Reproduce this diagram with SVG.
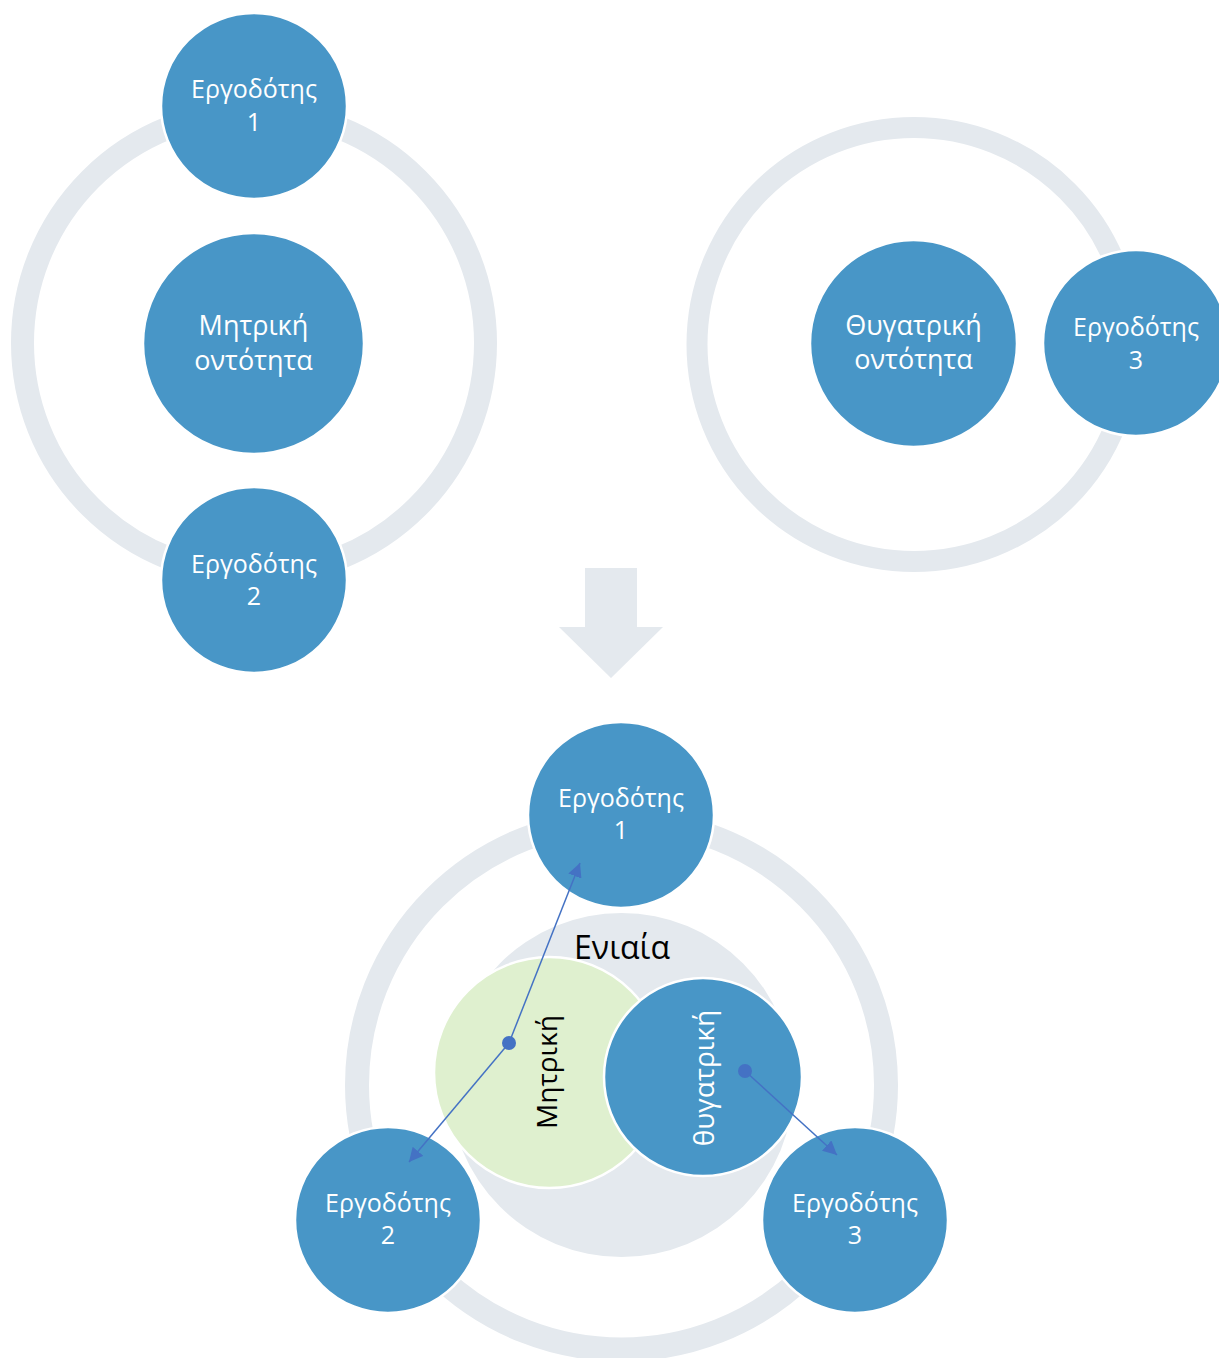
<svg xmlns="http://www.w3.org/2000/svg" width="1219" height="1358" viewBox="0 0 1219 1358">
  <defs>
    <style>
      .ring { fill: none; stroke: #e4e9ee; }
      .node { fill: #4896c7; stroke: #ffffff; stroke-width: 2.5; }
      .lbl { font-family: "Open Sans", "Noto Sans", "DejaVu Sans", sans-serif; fill: #ffffff; text-anchor: middle; }
      .emp { font-size: 25px; }
      .ent { font-size: 27px; }
      .dark { fill: #000000; }
      .conn { stroke: #4472c4; stroke-width: 1.5; fill: none; }
      .dot { fill: #4472c4; }
    </style>
    <marker id="arrow" markerUnits="userSpaceOnUse" markerWidth="16" markerHeight="14" refX="14" refY="7" orient="auto">
      <path d="M0,0 L14,7 L0,14 Z" fill="#4472c4"/>
    </marker>
  </defs>

  <rect width="1219" height="1358" fill="#ffffff"/>

  <!-- Top-left group -->
  <g id="ring-parent">
    <circle class="ring" cx="254" cy="343" r="231.5" stroke-width="23"/>
  </g>
  <g id="parent-entity">
    <circle class="node" cx="253.5" cy="343.5" r="110.5"/>
    <text class="lbl ent" x="253.5" y="335">Μητρική</text>
    <text class="lbl ent" x="253.5" y="370">οντότητα</text>
  </g>
  <g id="employer1-top">
    <circle class="node" cx="254" cy="106" r="93"/>
    <text class="lbl emp" x="254" y="98">Εργοδότης</text>
    <text class="lbl emp" x="254" y="131">1</text>
  </g>
  <g id="employer2-top">
    <circle class="node" cx="254" cy="580" r="93"/>
    <text class="lbl emp" x="254" y="573">Εργοδότης</text>
    <text class="lbl emp" x="254" y="605">2</text>
  </g>

  <!-- Top-right group -->
  <g id="ring-subsidiary">
    <circle class="ring" cx="914" cy="344.5" r="217" stroke-width="21"/>
  </g>
  <g id="subsidiary-entity">
    <circle class="node" cx="913.5" cy="343.5" r="103.5"/>
    <text class="lbl ent" x="913.5" y="335">Θυγατρική</text>
    <text class="lbl ent" x="913.5" y="369">οντότητα</text>
  </g>
  <g id="employer3-top">
    <circle class="node" cx="1136" cy="343" r="93"/>
    <text class="lbl emp" x="1136" y="336">Εργοδότης</text>
    <text class="lbl emp" x="1136" y="369">3</text>
  </g>

  <!-- Down arrow -->
  <g id="down-arrow">
    <path d="M585,568 L637,568 L637,627 L663,627 L611,678 L559,627 L585,627 Z" fill="#e4e9ee"/>
  </g>

  <!-- Bottom group -->
  <g id="ring-combined">
    <circle class="ring" cx="621.5" cy="1085" r="264.5" stroke-width="24"/>
  </g>
  <g id="unified">
    <circle cx="621.5" cy="1085" r="172" fill="#e4e9ee"/>
  </g>
  <g id="parent-bottom">
    <circle cx="549.5" cy="1072.5" r="115.5" fill="#dff0cf" stroke="#ffffff" stroke-width="2.5"/>
    <text class="lbl dark" font-size="28" transform="translate(557,1072) rotate(-90)" x="0" y="0">Μητρική</text>
  </g>
  <g id="subsidiary-bottom">
    <circle class="node" cx="703" cy="1077" r="99"/>
    <text class="lbl" font-size="28" transform="translate(714,1078) rotate(-90)" x="0" y="0">θυγατρική</text>
  </g>
  <g id="unified-label">
    <text class="lbl dark" font-size="32" x="622" y="959">Ενιαία</text>
  </g>
  <g id="employer1-bottom">
    <circle class="node" cx="621" cy="815" r="93"/>
    <text class="lbl emp" x="621" y="807">Εργοδότης</text>
    <text class="lbl emp" x="621" y="839">1</text>
  </g>
  <g id="employer2-bottom">
    <circle class="node" cx="388" cy="1220" r="93"/>
    <text class="lbl emp" x="388" y="1212">Εργοδότης</text>
    <text class="lbl emp" x="388" y="1244">2</text>
  </g>
  <g id="employer3-bottom">
    <circle class="node" cx="855" cy="1220" r="93"/>
    <text class="lbl emp" x="855" y="1212">Εργοδότης</text>
    <text class="lbl emp" x="855" y="1244">3</text>
  </g>

  <!-- Connectors -->
  <g id="connectors">
    <line class="conn" x1="509" y1="1043" x2="580" y2="863" marker-end="url(#arrow)"/>
    <line class="conn" x1="509" y1="1043" x2="409" y2="1162" marker-end="url(#arrow)"/>
    <line class="conn" x1="745" y1="1071" x2="837" y2="1155" marker-end="url(#arrow)"/>
    <circle class="dot" cx="509" cy="1043" r="7"/>
    <circle class="dot" cx="745" cy="1071" r="7"/>
  </g>
</svg>
